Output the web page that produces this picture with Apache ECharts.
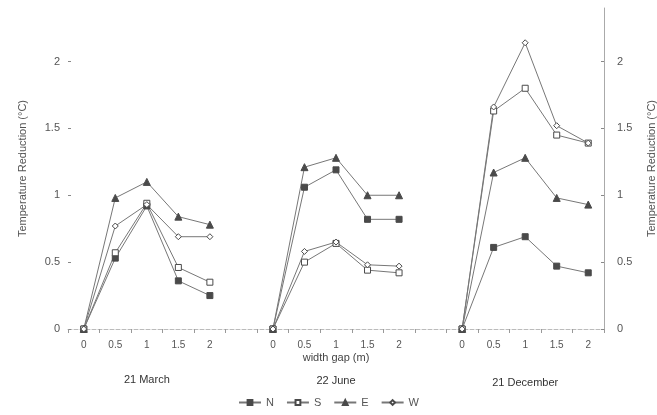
<!DOCTYPE html>
<html><head><meta charset="utf-8">
<script src="https://cdn.jsdelivr.net/npm/echarts@6/dist/echarts.min.js"></script>
<style>html,body{margin:0;padding:0;background:#fff}#c{width:657px;height:415px}</style>
</head><body><div id="c"></div>
<script>
// ---- data ----
const widthGaps = ['0', '0.5', '1', '1.5', '2'];
const panels = ['21 March', '22 June', '21 December'];
const yTicks = [0, 0.5, 1, 1.5, 2];
const seriesNames = ['N', 'S', 'E', 'W'];
// values per panel (March, June, December) at width gaps 0..2
const N_values = [[0, 0.53, 0.92, 0.36, 0.25], [0, 1.06, 1.19, 0.82, 0.82], [0, 0.61, 0.69, 0.47, 0.42]];
const S_values = [[0, 0.57, 0.94, 0.46, 0.35], [0, 0.50, 0.64, 0.44, 0.42], [0, 1.63, 1.80, 1.45, 1.39]];
const E_values = [[0, 0.98, 1.10, 0.84, 0.78], [0, 1.21, 1.28, 1.00, 1.00], [0, 1.17, 1.28, 0.98, 0.93]];
const W_values = [[0, 0.77, 0.93, 0.69, 0.69], [0, 0.58, 0.65, 0.48, 0.47], [0, 1.66, 2.14, 1.52, 1.39]];
const xAxisTitle = 'width gap (m)';
const yAxisTitle = 'Temperature Reduction (°C)';

// ---- build the category axis (one empty slot between panels) ----
const categories = [];
panels.forEach((p, i) => {
  widthGaps.forEach(g => categories.push(p + '|' + g));
  if (i < panels.length - 1) categories.push(p + '|gap');
});
function joinPanels(vals) {
  const out = [];
  vals.forEach((arr, i) => {
    arr.forEach(v => out.push(v));
    if (i < vals.length - 1) out.push(null);
  });
  return out;
}
const allValues = { N: N_values, S: S_values, E: E_values, W: W_values };
const styles = {
  N: { symbol: 'rect', fill: '#4a4a4a' },
  S: { symbol: 'rect', fill: '#ffffff' },
  E: { symbol: 'triangle', fill: '#4a4a4a' },
  W: { symbol: 'diamond', fill: '#ffffff' }
};
const FONT = '"Liberation Sans", Arial, sans-serif';
const chart = echarts.init(document.getElementById('c'));

const yAxisCommon = {
  type: 'value', min: 0, max: 2.4, interval: 0.5,
  name: yAxisTitle, nameLocation: 'middle', nameRotate: 90,
  nameTextStyle: { color: '#555', fontSize: 11, fontFamily: FONT },
  splitLine: { show: false },
  axisLabel: { color: '#555', fontSize: 11, fontFamily: FONT, showMaxLabel: false,
    formatter: v => (yTicks.indexOf(v) >= 0 ? String(v) : '') },
  axisTick: { show: true, inside: true, length: 3, lineStyle: { color: '#888' } }
};

chart.setOption({
  animation: false,
  backgroundColor: '#ffffff',
  grid: { left: 68, right: 53, top: 8, bottom: 86, outerBoundsMode: 'none', containLabel: false },
  xAxis: {
    type: 'category', data: categories, boundaryGap: true,
    axisLine: { show: true, lineStyle: { color: '#bbb', type: 'dashed', width: 1 } },
    axisTick: { show: true, interval: 0, length: 4, lineStyle: { color: '#999' } },
    axisLabel: { interval: 0, color: '#555', fontSize: 10, fontFamily: FONT, margin: 11,
      formatter: v => { const s = v.split('|')[1]; return s === 'gap' ? '' : s; } }
  },
  yAxis: [
    Object.assign({}, yAxisCommon, { position: 'left', nameGap: 40,
      axisLine: { show: false } }),
    Object.assign({}, yAxisCommon, { position: 'right', nameGap: 42,
      axisLabel: Object.assign({}, yAxisCommon.axisLabel, { margin: 13 }),
      axisLine: { show: true, lineStyle: { color: '#aaa' } } })
  ],
  legend: {
    data: seriesNames, bottom: 2, left: 'center', itemWidth: 22, itemHeight: 6, itemGap: 12,
    textStyle: { color: '#555', fontSize: 11, fontFamily: FONT }
  },
  series: seriesNames.map(n => ({
    name: n, type: 'line', yAxisIndex: 0,
    data: joinPanels(allValues[n]),
    symbol: styles[n].symbol, symbolSize: n === 'E' ? 7 : 6,
    showAllSymbol: true, connectNulls: false,
    lineStyle: { color: '#777', width: 1 },
    itemStyle: { color: styles[n].fill, borderColor: '#4a4a4a', borderWidth: 1 }
  }))
});

// panel captions centered below each panel's middle category
const graphics = [];
const captionY = [380, 381, 383];
panels.forEach((p, i) => {
  const x = chart.convertToPixel({ xAxisIndex: 0 }, p + '|' + widthGaps[2]);
  graphics.push({ type: 'text', x: x, y: captionY[i],
    style: { text: p, fill: '#333', font: '500 11px ' + FONT, textAlign: 'center', textVerticalAlign: 'middle' } });
  if (i === 1) {
    graphics.push({ type: 'text', x: x, y: 358,
      style: { text: xAxisTitle, fill: '#444', font: '11px ' + FONT, textAlign: 'center', textVerticalAlign: 'middle' } });
  }
});
chart.setOption({ graphic: graphics });
</script></body></html>
